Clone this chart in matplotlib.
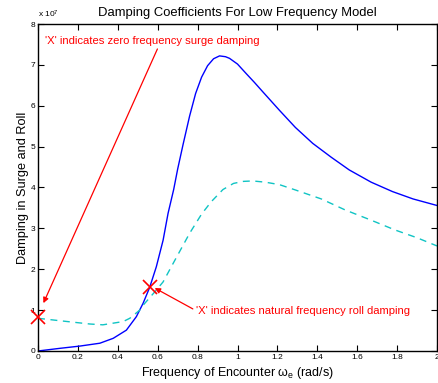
import matplotlib
matplotlib.use("Agg")
import matplotlib.pyplot as plt
import numpy as np

plt.rcParams['font.family'] = ['Liberation Sans', 'DejaVu Sans']
plt.rcParams['mathtext.fontset'] = 'custom'
plt.rcParams['mathtext.rm'] = 'Liberation Sans'
plt.rcParams['mathtext.it'] = 'Liberation Sans'

# surge damping (solid blue), units of 1e7
surge_w = [0.0, 0.11, 0.21, 0.31, 0.377, 0.443, 0.493, 0.527, 0.56, 0.593, 0.627,
           0.652, 0.68, 0.70, 0.727, 0.76, 0.79, 0.82, 0.85, 0.88, 0.91, 0.94,
           0.96, 1.0, 1.043, 1.085, 1.127, 1.21, 1.29, 1.377, 1.47, 1.56, 1.67,
           1.777, 1.88, 2.0]
surge_d = [0.0, 0.065, 0.12, 0.19, 0.31, 0.51, 0.84, 1.17, 1.56, 2.06, 2.71,
           3.37, 3.95, 4.45, 5.05, 5.75, 6.3, 6.7, 6.98, 7.15, 7.22, 7.2,
           7.16, 7.02, 6.79, 6.57, 6.34, 5.89, 5.47, 5.08, 4.74, 4.43, 4.13,
           3.9, 3.72, 3.56]

# roll damping (dashed cyan), units of 1e7
roll_w = [0.0, 0.11, 0.26, 0.325, 0.427, 0.46, 0.51, 0.527, 0.593, 0.627, 0.677,
          0.76, 0.82, 0.868, 0.927, 0.98, 1.03, 1.077, 1.14, 1.21, 1.29, 1.42,
          1.54, 1.67, 1.79, 1.9, 2.0]
roll_d = [0.80, 0.74, 0.66, 0.64, 0.72, 0.80, 1.0, 1.12, 1.49, 1.69, 2.14,
          2.88, 3.35, 3.65, 3.95, 4.1, 4.15, 4.16, 4.13, 4.07, 3.94, 3.72,
          3.45, 3.2, 2.96, 2.77, 2.57]

# marked points
mark_w = [0.0, 0.56]
mark_d = [0.82, 1.57]

scale = 1e7

fig = plt.figure(figsize=(4.38, 3.83), dpi=100)
ax = fig.add_axes([0.0868, 0.0836, 0.9109, 0.8537])

ax.plot(np.array(surge_w), np.array(surge_d) * scale, color='#0000ff', lw=1.0)
ax.plot(np.array(roll_w), np.array(roll_d) * scale, color='#10c4c4', lw=1.0,
        dashes=(5, 4))
ax.plot(np.array(mark_w), np.array(mark_d) * scale, 'x', color='red',
        ms=10, mew=1.2, clip_on=False, zorder=5)

ax.set_xlim(0, 2)
ax.set_ylim(0, 8e7)
ax.set_xticks(np.arange(0, 2.01, 0.2))
ax.set_xticklabels(['0', '0.2', '0.4', '0.6', '0.8', '1', '1.2', '1.4', '1.6', '1.8', '2'])
ax.set_yticks(np.arange(0, 8.1, 1) * scale)
ax.set_yticklabels([str(i) for i in range(9)])
ax.tick_params(direction='in', top=True, right=True, labelsize=6, length=4,
               width=0.8, pad=2)
for s in ax.spines.values():
    s.set_linewidth(1.0)
ax.text(0.0, 1.012, r'x 10$^7$', transform=ax.transAxes, fontsize=6,
        ha='left', va='bottom')

ax.set_title('Damping Coefficients For Low Frequency Model', fontsize=9.4, pad=6)
ax.set_xlabel(r'Frequency of Encounter $\omega_e$ (rad/s)', fontsize=9, labelpad=3)
ax.set_ylabel('Damping in Surge and Roll', fontsize=9.2, labelpad=1)

arrow = dict(arrowstyle='-|>', color='red', lw=0.9, mutation_scale=8,
             shrinkA=0, shrinkB=0)
ax.annotate("'X' indicates zero frequency surge damping",
            xy=(0.027, 1.17 * scale), xytext=(0.5725, 7.58 * scale),
            color='red', fontsize=8.1, ha='center', va='center',
            arrowprops=dict(arrow, relpos=(0.53, 0.0)))
ax.annotate("'X' indicates natural frequency roll damping",
            xy=(0.585, 1.54 * scale), xytext=(0.79, 0.98 * scale),
            color='red', fontsize=8.1, ha='left', va='center',
            arrowprops=dict(arrow, relpos=(0.0, 0.55)))

fig.savefig('out.png', dpi=100)
